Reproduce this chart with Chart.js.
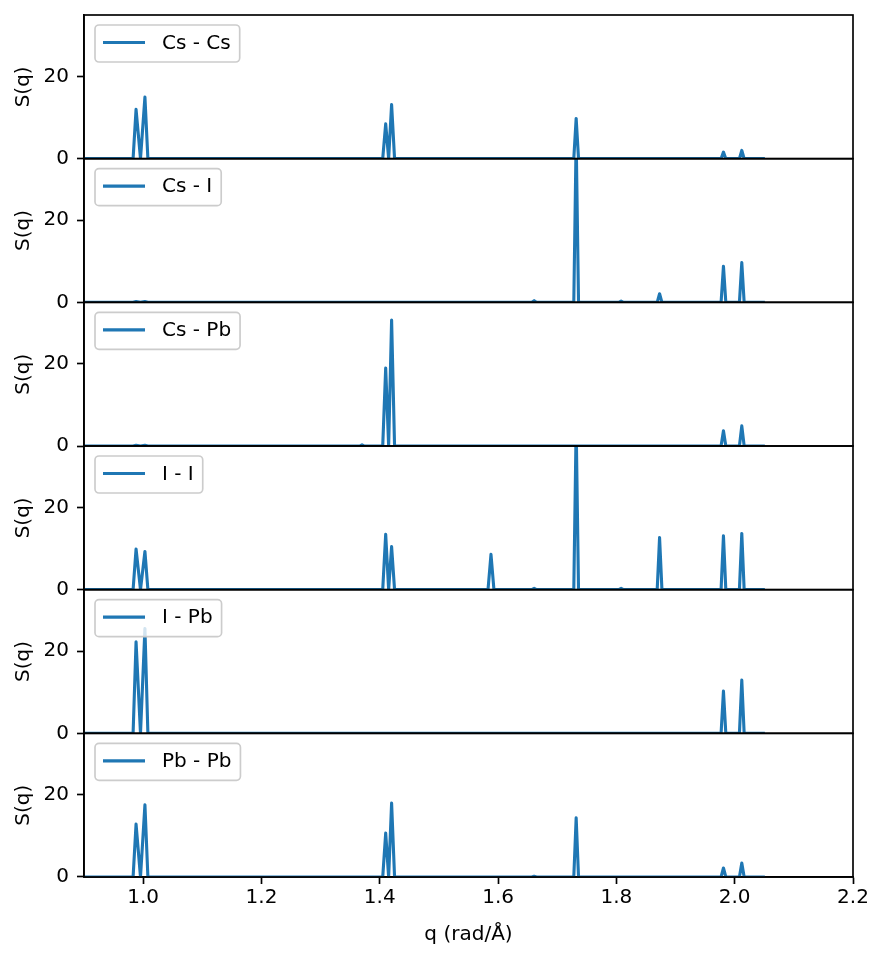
<!DOCTYPE html>
<html>
<head>
<meta charset="utf-8">
<script src="https://cdn.jsdelivr.net/npm/chart.js@4.4.1/dist/chart.umd.min.js"></script>
<style>
  html, body { margin: 0; padding: 0; background: #fff; }
</style>
</head>
<body>
<canvas id="sq-chart" width="885" height="960"></canvas>
<script>
// q grid (rad/Å) shared by all panels
var q = [0.900, 0.983, 0.988, 0.9955, 1.003, 1.008,
         1.366, 1.370, 1.374,
         1.405, 1.410, 1.415, 1.420, 1.425,
         1.583, 1.588, 1.593,
         1.657, 1.661, 1.665,
         1.728, 1.732, 1.736,
         1.804, 1.808, 1.812,
         1.869, 1.873, 1.877,
         1.977, 1.981, 1.985,
         2.008, 2.012, 2.016,
         2.051];

var pairs = ['Cs - Cs', 'Cs - I', 'Cs - Pb', 'I - I', 'I - Pb', 'Pb - Pb'];

var sCsCs = [0, 0, 12.0, 0, 15.0, 0,  0, 0, 0,  0, 8.5, 0, 13.2, 0,  0, 0, 0,  0, 0, 0,  0, 9.8, 0,  0, 0, 0,  0, 0, 0,  0, 1.6, 0,  0, 2.0, 0,  0];
var sCsI  = [0, 0, 0.2, 0, 0.2, 0,  0, 0, 0,  0, 0, 0, 0, 0,  0, 0, 0,  0, 0.4, 0,  0, 40, 0,  0, 0.3, 0,  0, 2.1, 0,  0, 8.8, 0,  0, 9.7, 0,  0];
var sCsPb = [0, 0, 0.2, 0, 0.2, 0,  0, 0.3, 0,  0, 19.0, 0, 30.7, 0,  0, 0, 0,  0, 0, 0,  0, 0, 0,  0, 0, 0,  0, 0, 0,  0, 3.7, 0,  0, 4.9, 0,  0];
var sII   = [0, 0, 9.9, 0, 9.3, 0,  0, 0, 0,  0, 13.5, 0, 10.5, 0,  0, 8.6, 0,  0, 0.3, 0,  0, 40, 0,  0, 0.3, 0,  0, 12.7, 0,  0, 13.1, 0,  0, 13.7, 0,  0];
var sIPb  = [0, 0, 22.3, 0, 25.5, 0,  0, 0, 0,  0, 0, 0, 0, 0,  0, 0, 0,  0, 0, 0,  0, 0, 0,  0, 0, 0,  0, 0, 0,  0, 10.3, 0,  0, 13.0, 0,  0];
var sPbPb = [0, 0, 12.9, 0, 17.6, 0,  0, 0, 0,  0, 10.7, 0, 18.0, 0,  0, 0, 0,  0, 0.2, 0,  0, 14.4, 0,  0, 0, 0,  0, 0, 0,  0, 2.2, 0,  0, 3.4, 0,  0];

var series = [sCsCs, sCsI, sCsPb, sII, sIPb, sPbPb];

var xTicks = [1.0, 1.2, 1.4, 1.6, 1.8, 2.0, 2.2];
var yTicks = [0, 20];

var lineColor = '#1f77b4';
var spineW = 1.67;

Chart.defaults.font.family = 'DejaVu Sans';
Chart.defaults.font.size = 20;
Chart.defaults.color = '#000000';

function noPad(s) {
    s.paddingTop = 0;
    s.paddingBottom = 0;
    s.paddingLeft = 0;
    s.paddingRight = 0;
}

// clip every line to its own panel
var panelClip = {
    id: 'panelClip',
    beforeDatasetDraw: function(chart, args) {
        var s = chart.scales['y' + args.index];
        var a = chart.chartArea;
        var ctx = chart.ctx;
        ctx.save();
        ctx.beginPath();
        ctx.rect(a.left, s.top, a.right - a.left, s.bottom - s.top);
        ctx.clip();
    },
    afterDatasetDraw: function(chart) {
        chart.ctx.restore();
    }
};

// panel frames + legends
var panelDeco = {
    id: 'panelDeco',
    afterDatasetsDraw: function(chart) {
        var ctx = chart.ctx;
        var a = chart.chartArea;
        ctx.save();
        for (var i = 0; i < pairs.length; i++) {
            var s = chart.scales['y' + i];
            ctx.strokeStyle = '#000000';
            ctx.lineWidth = spineW;
            ctx.strokeRect(a.left, s.top, a.right - a.left, s.bottom - s.top);
        }
        ctx.font = '20px "DejaVu Sans"';
        ctx.textBaseline = 'middle';
        for (var j = 0; j < pairs.length; j++) {
            var sc = chart.scales['y' + j];
            var bx = a.left + 11, by = sc.top + 10;
            var tw = ctx.measureText(pairs[j]).width;
            var bw = 8 + 42 + 17 + tw + 9, bh = 37;
            ctx.beginPath();
            ctx.roundRect(bx, by, bw, bh, 4);
            ctx.fillStyle = 'rgba(255,255,255,0.8)';
            ctx.fill();
            ctx.strokeStyle = '#cccccc';
            ctx.lineWidth = spineW;
            ctx.stroke();
            ctx.beginPath();
            ctx.moveTo(bx + 8, by + 17.5);
            ctx.lineTo(bx + 50, by + 17.5);
            ctx.strokeStyle = lineColor;
            ctx.lineWidth = 3.1;
            ctx.stroke();
            ctx.fillStyle = '#000000';
            ctx.fillText(pairs[j], bx + 67, by + 18.5);
        }
        ctx.restore();
    }
};

var scales = {
    x: {
        type: 'linear',
        position: 'bottom',
        min: 0.9,
        max: 2.2,
        afterBuildTicks: function(s) { s.ticks = xTicks.map(function(v) { return {value: v}; }); },
        afterFit: function(s) { s.height = 83; noPad(s); },
        ticks: {
            color: '#000000',
            padding: 2,
            maxRotation: 0,
            autoSkip: false,
            callback: function(v) { return Number(v).toFixed(1); }
        },
        grid: { drawOnChartArea: false, tickLength: 7, tickWidth: spineW, color: '#000000' },
        border: { color: '#000000', width: spineW },
        title: { display: true, text: 'q (rad/Å)', color: '#000000', padding: { top: 2, bottom: 13 } }
    }
};

for (var k = 0; k < pairs.length; k++) {
    scales['y' + k] = {
        type: 'linear',
        position: 'left',
        stack: 'panels',
        stackWeight: 1,
        weight: pairs.length - k,
        min: 0,
        max: 35,
        afterBuildTicks: function(s) { s.ticks = yTicks.map(function(v) { return {value: v}; }); },
        afterFit: function(s) { s.width = 84; noPad(s); },
        ticks: { color: '#000000', padding: 8 },
        grid: { drawOnChartArea: false, tickLength: 7, tickWidth: spineW, color: '#000000' },
        border: { color: '#000000', width: spineW },
        title: { display: true, text: 'S(q)', color: '#000000', padding: { top: 12, bottom: 0 } }
    };
}

var ctx = document.getElementById('sq-chart').getContext('2d');
var chart = new Chart(ctx, {
    type: 'line',
    data: {
        datasets: series.map(function(s, i) {
            return {
                label: pairs[i],
                data: q.map(function(x, j) { return {x: x, y: s[j]}; }),
                yAxisID: 'y' + i,
                borderColor: lineColor,
                borderWidth: 3.1,
                borderJoinStyle: 'round',
                pointRadius: 0,
                tension: 0,
                fill: false
            };
        })
    },
    options: {
        responsive: false,
        animation: false,
        devicePixelRatio: 1,
        layout: { padding: { top: 15, right: 32, left: 0, bottom: 0 } },
        plugins: {
            legend: { display: false },
            tooltip: { enabled: false }
        },
        scales: scales
    },
    plugins: [panelClip, panelDeco]
});
</script>
</body>
</html>
